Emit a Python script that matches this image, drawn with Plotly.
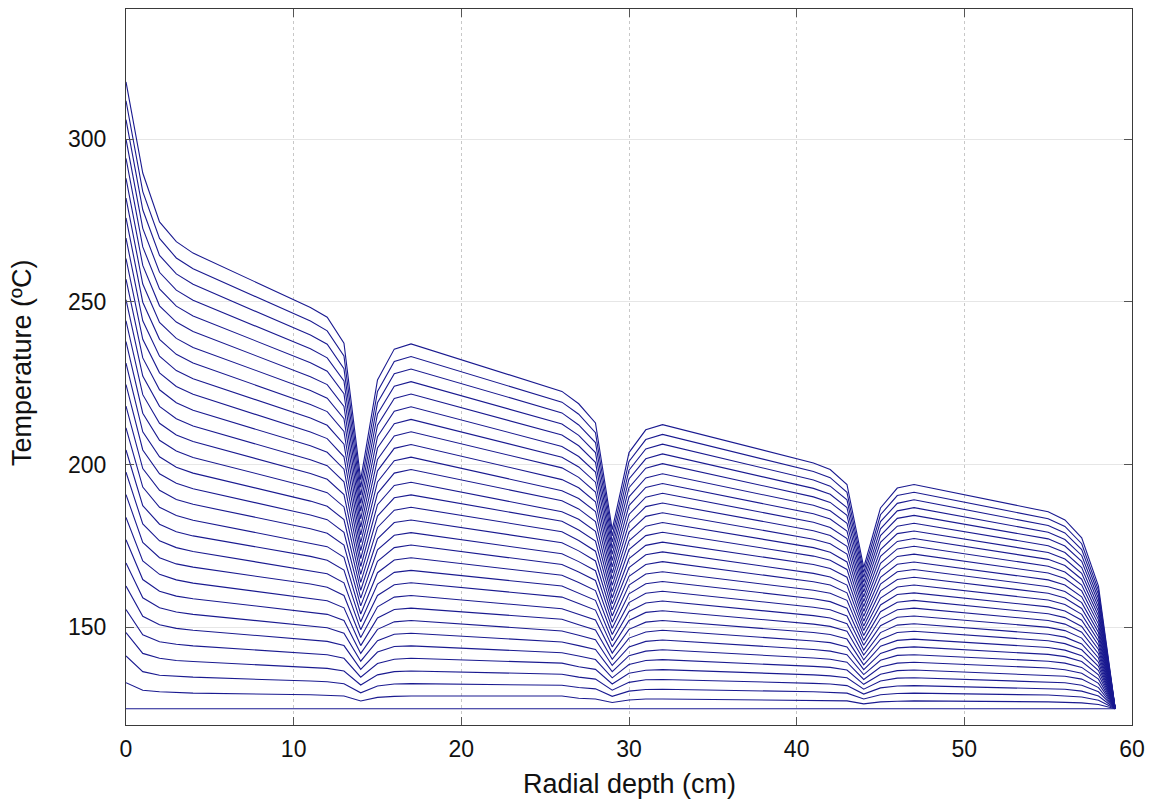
import plotly.graph_objects as go

# Radial depth (cm) of the profile vertices
depth_cm = [0, 1, 2, 3, 4, 11, 12, 13, 14, 15, 16, 17, 26, 27, 28, 29, 30, 31, 32,
            41, 42, 43, 44, 45, 46, 47, 55, 56, 57, 58, 59]

# Temperature (ºC) at each depth, one value per profile (30 profiles, earliest first)
t_x00 = [125.0, 133.0, 141.2, 148.4, 155.5, 162.7, 169.8, 176.9, 183.8, 190.8, 197.7, 204.5, 211.3, 218.0, 224.6, 231.2, 237.8, 244.2, 250.7, 257.0, 263.3, 269.6, 275.8, 281.9, 288.0, 294.1, 300.0, 306.0, 311.8, 317.6]
t_x01 = [125.0, 130.7, 136.4, 142.0, 147.7, 153.4, 159.1, 164.7, 170.4, 176.1, 181.8, 187.4, 193.1, 198.8, 204.5, 210.1, 215.8, 221.5, 227.2, 232.8, 238.5, 244.2, 249.9, 255.5, 261.2, 266.9, 272.6, 278.3, 283.9, 289.6]
t_x02 = [125.0, 130.2, 135.3, 140.5, 145.6, 150.8, 156.0, 161.1, 166.3, 171.4, 176.6, 181.7, 186.9, 192.1, 197.2, 202.4, 207.5, 212.7, 217.9, 223.0, 228.2, 233.3, 238.5, 243.7, 248.8, 254.0, 259.1, 264.3, 269.5, 274.6]
t_x03 = [125.0, 129.9, 134.9, 139.8, 144.8, 149.7, 154.7, 159.6, 164.6, 169.5, 174.5, 179.4, 184.4, 189.3, 194.3, 199.2, 204.2, 209.1, 214.1, 219.0, 224.0, 228.9, 233.9, 238.8, 243.8, 248.7, 253.6, 258.6, 263.5, 268.5]
t_x04 = [125.0, 129.8, 134.7, 139.5, 144.3, 149.1, 154.0, 158.8, 163.6, 168.5, 173.3, 178.1, 182.9, 187.8, 192.6, 197.4, 202.2, 207.1, 211.9, 216.7, 221.6, 226.4, 231.2, 236.0, 240.9, 245.7, 250.5, 255.4, 260.2, 265.0]
t_x11 = [125.0, 129.3, 133.5, 137.8, 142.0, 146.3, 150.5, 154.8, 159.0, 163.3, 167.5, 171.8, 176.0, 180.3, 184.5, 188.8, 193.0, 197.3, 201.5, 205.8, 210.0, 214.3, 218.5, 222.8, 227.0, 231.3, 235.6, 239.8, 244.1, 248.3]
t_x12 = [125.0, 129.1, 133.3, 137.4, 141.6, 145.7, 149.9, 154.0, 158.2, 162.3, 166.5, 170.6, 174.8, 178.9, 183.1, 187.2, 191.4, 195.5, 199.7, 203.8, 208.0, 212.1, 216.3, 220.4, 224.6, 228.7, 232.8, 237.0, 241.1, 245.3]
t_x13 = [125.0, 128.9, 132.7, 136.6, 140.5, 144.4, 148.2, 152.1, 156.0, 159.8, 163.7, 167.6, 171.5, 175.3, 179.2, 183.1, 187.0, 190.8, 194.7, 198.6, 202.4, 206.3, 210.2, 214.1, 217.9, 221.8, 225.7, 229.5, 233.4, 237.3]
t_x14 = [125.0, 127.4, 129.9, 132.3, 134.7, 137.1, 139.6, 142.0, 144.4, 146.9, 149.3, 151.7, 154.1, 156.6, 159.0, 161.4, 163.8, 166.3, 168.7, 171.1, 173.6, 176.0, 178.4, 180.8, 183.3, 185.7, 188.1, 190.6, 193.0, 195.4]
t_x15 = [125.0, 128.5, 132.0, 135.4, 138.9, 142.4, 145.9, 149.4, 152.9, 156.3, 159.8, 163.3, 166.8, 170.3, 173.8, 177.2, 180.7, 184.2, 187.7, 191.2, 194.7, 198.1, 201.6, 205.1, 208.6, 212.1, 215.6, 219.0, 222.5, 226.0]
t_x16 = [125.0, 128.8, 132.6, 136.4, 140.2, 144.1, 147.9, 151.7, 155.5, 159.3, 163.1, 166.9, 170.7, 174.5, 178.3, 182.2, 186.0, 189.8, 193.6, 197.4, 201.2, 205.0, 208.8, 212.6, 216.4, 220.3, 224.1, 227.9, 231.7, 235.5]
t_x17 = [125.0, 128.9, 132.7, 136.6, 140.5, 144.3, 148.2, 152.1, 155.9, 159.8, 163.7, 167.5, 171.4, 175.3, 179.1, 183.0, 186.9, 190.7, 194.6, 198.5, 202.3, 206.2, 210.1, 213.9, 217.8, 221.7, 225.5, 229.4, 233.2, 237.1]
t_x26 = [125.0, 128.9, 132.2, 135.6, 139.0, 142.2, 145.5, 148.9, 152.5, 155.7, 159.3, 162.7, 166.0, 169.3, 172.6, 176.0, 179.4, 182.6, 185.5, 188.9, 192.0, 195.4, 199.0, 202.3, 205.6, 209.1, 212.5, 215.9, 219.2, 222.5]
t_x27 = [125.0, 128.2, 131.5, 134.7, 137.9, 141.2, 144.4, 147.6, 150.8, 154.1, 157.3, 160.5, 163.8, 167.0, 170.2, 173.5, 176.7, 179.9, 183.2, 186.4, 189.6, 192.9, 196.1, 199.3, 202.5, 205.8, 209.0, 212.2, 215.5, 218.7]
t_x28 = [125.0, 128.0, 131.1, 134.1, 137.1, 140.1, 143.2, 146.2, 149.2, 152.3, 155.3, 158.3, 161.3, 164.4, 167.4, 170.4, 173.4, 176.5, 179.5, 182.5, 185.6, 188.6, 191.6, 194.6, 197.7, 200.7, 203.7, 206.8, 209.8, 212.8]
t_x29 = [125.0, 126.9, 128.8, 130.7, 132.6, 134.5, 136.4, 138.3, 140.2, 142.1, 144.0, 145.9, 147.8, 149.7, 151.6, 153.5, 155.4, 157.2, 159.1, 161.0, 162.9, 164.8, 166.7, 168.6, 170.5, 172.4, 174.3, 176.2, 178.1, 180.0]
t_x30 = [125.0, 127.7, 130.4, 133.1, 135.9, 138.6, 141.3, 144.0, 146.7, 149.4, 152.1, 154.9, 157.6, 160.3, 163.0, 165.7, 168.4, 171.1, 173.9, 176.6, 179.3, 182.0, 184.7, 187.4, 190.1, 192.9, 195.6, 198.3, 201.0, 203.7]
t_x31 = [125.0, 128.0, 130.9, 133.9, 136.8, 139.8, 142.7, 145.7, 148.6, 151.6, 154.6, 157.5, 160.5, 163.4, 166.4, 169.3, 172.3, 175.2, 178.2, 181.1, 184.1, 187.1, 190.0, 193.0, 195.9, 198.9, 201.8, 204.8, 207.7, 210.7]
t_x32 = [125.0, 128.0, 131.0, 134.0, 137.0, 140.1, 143.1, 146.1, 149.1, 152.1, 155.1, 158.1, 161.1, 164.1, 167.1, 170.2, 173.2, 176.2, 179.2, 182.2, 185.2, 188.2, 191.2, 194.2, 197.2, 200.3, 203.3, 206.3, 209.3, 212.3]
t_x41 = [125.0, 127.6, 130.2, 132.8, 135.4, 138.0, 140.6, 143.2, 145.8, 148.4, 151.0, 153.6, 156.2, 158.8, 161.4, 164.0, 166.6, 169.3, 171.9, 174.5, 177.1, 179.7, 182.3, 184.9, 187.5, 190.1, 192.7, 195.3, 197.9, 200.5]
t_x42 = [125.0, 127.5, 130.1, 132.6, 135.1, 137.7, 140.2, 142.7, 145.3, 147.8, 150.3, 152.9, 155.4, 157.9, 160.5, 163.0, 165.5, 168.1, 170.6, 173.1, 175.7, 178.2, 180.7, 183.3, 185.8, 188.4, 190.9, 193.4, 196.0, 198.5]
t_x43 = [125.0, 127.4, 129.8, 132.1, 134.5, 136.9, 139.3, 141.6, 144.0, 146.4, 148.8, 151.1, 153.5, 155.9, 158.3, 160.6, 163.0, 165.4, 167.8, 170.1, 172.5, 174.9, 177.3, 179.6, 182.0, 184.4, 186.8, 189.2, 191.5, 193.9]
t_x44 = [125.0, 126.5, 128.0, 129.5, 131.0, 132.5, 134.0, 135.5, 137.0, 138.5, 140.0, 141.5, 143.0, 144.5, 146.0, 147.5, 149.0, 150.4, 151.9, 153.4, 154.9, 156.4, 157.9, 159.4, 160.9, 162.4, 163.9, 165.4, 166.9, 168.4]
t_x45 = [125.0, 127.1, 129.3, 131.4, 133.5, 135.6, 137.8, 139.9, 142.0, 144.2, 146.3, 148.4, 150.5, 152.7, 154.8, 156.9, 159.0, 161.2, 163.3, 165.4, 167.6, 169.7, 171.8, 173.9, 176.1, 178.2, 180.3, 182.5, 184.6, 186.7]
t_x46 = [125.0, 127.3, 129.7, 132.0, 134.4, 136.7, 139.0, 141.4, 143.7, 146.0, 148.4, 150.7, 153.1, 155.4, 157.7, 160.1, 162.4, 164.7, 167.1, 169.4, 171.8, 174.1, 176.4, 178.8, 181.1, 183.5, 185.8, 188.1, 190.5, 192.8]
t_x47 = [125.0, 127.4, 129.8, 132.1, 134.5, 136.9, 139.3, 141.6, 144.0, 146.4, 148.8, 151.1, 153.5, 155.9, 158.3, 160.6, 163.0, 165.4, 167.8, 170.1, 172.5, 174.9, 177.3, 179.6, 182.0, 184.4, 186.8, 189.2, 191.5, 193.9]
t_x55 = [125.0, 127.1, 129.2, 131.3, 133.3, 135.4, 137.5, 139.6, 141.7, 143.8, 145.9, 147.9, 150.0, 152.1, 154.2, 156.3, 158.4, 160.5, 162.5, 164.6, 166.7, 168.8, 170.9, 173.0, 175.1, 177.2, 179.2, 181.3, 183.4, 185.5]
t_x56 = [125.0, 127.0, 129.0, 131.0, 133.0, 135.0, 137.0, 139.0, 141.0, 143.0, 145.0, 147.0, 149.0, 151.0, 153.0, 155.0, 157.0, 159.0, 161.0, 163.0, 165.0, 167.0, 169.0, 171.0, 173.0, 175.0, 177.0, 179.0, 181.0, 183.0]
t_x57 = [125.0, 126.8, 128.6, 130.4, 132.2, 134.1, 135.9, 137.7, 139.5, 141.3, 143.1, 144.9, 146.7, 148.5, 150.3, 152.2, 154.0, 155.8, 157.6, 159.4, 161.2, 163.0, 164.8, 166.6, 168.4, 170.3, 172.1, 173.9, 175.7, 177.5]
t_x58 = [125.0, 126.3, 127.6, 128.9, 130.2, 131.5, 132.8, 134.1, 135.4, 136.7, 138.0, 139.3, 140.6, 141.9, 143.2, 144.5, 145.8, 147.1, 148.4, 149.7, 151.0, 152.3, 153.6, 154.9, 156.2, 157.5, 158.8, 160.1, 161.4, 162.7]
t_x59 = [125.0, 125.0, 125.0, 125.0, 125.0, 125.0, 125.0, 125.0, 125.0, 125.0, 125.0, 125.0, 125.0, 125.0, 125.0, 125.0, 125.0, 125.0, 125.0, 125.0, 125.0, 125.0, 125.0, 125.0, 125.0, 125.0, 125.0, 125.0, 125.0, 125.0]

x_ticks = [0, 10, 20, 30, 40, 50, 60]
y_ticks = [150, 200, 250, 300]
x_title = "Radial depth (cm)"
y_title = "Temperature (ºC)"

columns = [t_x00, t_x01, t_x02, t_x03, t_x04, t_x11, t_x12, t_x13, t_x14, t_x15, t_x16,
           t_x17, t_x26, t_x27, t_x28, t_x29, t_x30, t_x31, t_x32, t_x41, t_x42, t_x43,
           t_x44, t_x45, t_x46, t_x47, t_x55, t_x56, t_x57, t_x58, t_x59]

if len(columns) != len(depth_cm):
    raise SystemExit("columns/depth mismatch")
for i, c in enumerate(columns):
    if len(c) != 30:
        raise SystemExit("column %d has %d values" % (depth_cm[i], len(c)))

n_profiles = len(t_x00)
LINE = "#1a1a90"
FONT = "Liberation Sans, Arial, Helvetica, sans-serif"

fig = go.Figure()
for k in range(n_profiles):
    fig.add_trace(go.Scatter(
        x=depth_cm,
        y=[col[k] for col in columns],
        mode="lines",
        line=dict(color=LINE, width=1.1),
        hoverinfo="skip",
        showlegend=False,
    ))

axis_common = dict(
    showline=True, linecolor="#3a3a3a", linewidth=1, mirror="ticks",
    ticks="inside", ticklen=8, tickwidth=1, tickcolor="#555555",
    tickfont=dict(family=FONT, size=23, color="#111111"),
    zeroline=False,
)

# the page body adds an 8px offset, so the figure is sized to fit the window
fig.update_layout(
    width=1150, height=795,
    margin=dict(l=118, r=26, t=1, b=78),
    paper_bgcolor="white", plot_bgcolor="white",
    font=dict(family=FONT, color="#111111"),
    xaxis=dict(range=[0, 60], tickvals=x_ticks, showgrid=True,
               gridcolor="#c8c8c8", griddash="dot", gridwidth=1,
               ticklabelstandoff=3, **axis_common),
    yaxis=dict(range=[120, 340], tickvals=y_ticks, showgrid=True,
               gridcolor="#e6e6e6", gridwidth=1,
               ticklabelstandoff=14, **axis_common),
    annotations=[
        dict(text=x_title, xref="paper", yref="paper", x=0.5, y=-0.0824,
             xanchor="center", yanchor="middle", showarrow=False,
             font=dict(family=FONT, size=27, color="#111111")),
        dict(text=y_title, xref="paper", yref="paper", x=-0.1034, y=0.5056,
             xanchor="center", yanchor="middle", showarrow=False, textangle=-90,
             font=dict(family=FONT, size=27, color="#111111")),
    ],
    hovermode=False,
)

fig.write_html("out.html")
